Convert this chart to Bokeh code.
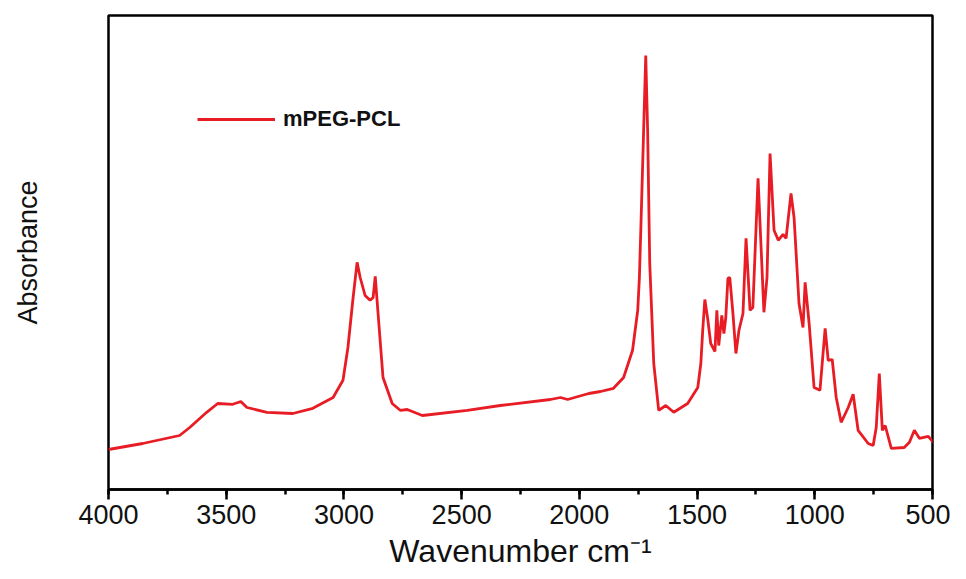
from bokeh.plotting import figure
from bokeh.models import Range1d, SingleIntervalTicker, FixedTicker, Legend, LegendItem
from bokeh.embed import file_html
from bokeh.resources import INLINE

# FTIR spectrum of mPEG-PCL
wavenumber = [4000, 3855, 3698, 3655, 3583, 3536, 3472, 3438, 3412, 3327, 3217, 3132,
              3046, 3004, 2983, 2961, 2944, 2931, 2910, 2889, 2876, 2867, 2855, 2834,
              2795, 2761, 2731, 2667, 2476, 2336, 2123, 2080, 2050, 1960, 1910, 1855,
              1812, 1774, 1752, 1745, 1739, 1727, 1718, 1710, 1701, 1684, 1663, 1633, 1599,
              1540, 1497, 1484, 1476, 1467, 1454, 1442, 1424, 1416, 1408, 1395, 1386,
              1378, 1369, 1361, 1348, 1335, 1322, 1305, 1292, 1275, 1263, 1241, 1216,
              1203, 1190, 1173, 1155, 1135, 1122, 1101, 1088, 1067, 1050, 1041, 1024,
              1003, 978, 956, 943, 926, 909, 888, 858, 837, 816, 773, 752, 739, 726,
              713, 701, 675, 620, 598, 577, 556, 518, 492]
absorbance = [0.100, 0.115, 0.135, 0.155, 0.193, 0.215, 0.213, 0.220, 0.205, 0.193, 0.190, 0.203,
              0.230, 0.273, 0.355, 0.480, 0.568, 0.530, 0.485, 0.473, 0.480, 0.533, 0.440, 0.280,
              0.215, 0.198, 0.200, 0.185, 0.198, 0.210, 0.225, 0.230, 0.225, 0.240, 0.245, 0.253,
              0.280, 0.348, 0.448, 0.530, 0.648, 0.898, 1.085, 0.898, 0.565, 0.315, 0.198, 0.210, 0.193,
              0.215, 0.255, 0.315, 0.398, 0.475, 0.423, 0.365, 0.345, 0.448, 0.360, 0.435, 0.390,
              0.430, 0.528, 0.530, 0.443, 0.340, 0.398, 0.440, 0.628, 0.448, 0.455, 0.778, 0.443,
              0.530, 0.840, 0.648, 0.623, 0.638, 0.628, 0.740, 0.680, 0.465, 0.405, 0.518, 0.415,
              0.255, 0.248, 0.403, 0.323, 0.325, 0.230, 0.168, 0.205, 0.238, 0.148, 0.115, 0.110,
              0.155, 0.290, 0.148, 0.160, 0.103, 0.105, 0.118, 0.148, 0.128, 0.133, 0.115]
series_name = "mPEG-PCL"
x_ticks_interval = 500

p = figure(width=950, height=571, output_backend="svg", toolbar_location=None,
           x_range=Range1d(4000, 500), y_range=Range1d(0, 1.185),
           min_border_left=108, min_border_right=18, min_border_top=15, min_border_bottom=82)

p.grid.visible = False
p.background_fill_color = "white"
p.outline_line_color = "black"
p.outline_line_width = 2.5

line = p.line(wavenumber, absorbance, line_color="#e81c24", line_width=2.8)

legend = Legend(items=[LegendItem(label=series_name, renderers=[line])],
                location=(89, 357), padding=0, margin=0, spacing=0,
                glyph_width=78, glyph_height=20, label_standoff=8,
                border_line_color=None, background_fill_alpha=0,
                label_text_font="Liberation Sans", label_text_font_style="bold",
                label_text_font_size="22px", label_text_color="#111111")
p.add_layout(legend)

xa = p.xaxis[0]
xa.ticker = SingleIntervalTicker(interval=x_ticks_interval, num_minor_ticks=2)
xa.axis_line_color = "black"
xa.axis_line_width = 2.5
xa.major_tick_line_width = 2.5
xa.minor_tick_line_width = 2.5
xa.major_tick_in = 0
xa.major_tick_out = 10
xa.minor_tick_in = 0
xa.minor_tick_out = 5
xa.major_label_standoff = 5
xa.major_label_text_font = "Liberation Sans"
xa.major_label_text_font_size = "27px"
xa.major_label_text_color = "#111111"
xa.axis_label = "Wavenumber cm⁻¹"
xa.axis_label_standoff = 6
xa.axis_label_text_font = "Liberation Sans"
xa.axis_label_text_font_size = "32px"
xa.axis_label_text_font_style = "normal"
xa.axis_label_text_color = "#111111"

ya = p.yaxis[0]
ya.ticker = FixedTicker(ticks=[])
ya.axis_line_color = None
ya.major_tick_line_color = None
ya.minor_tick_line_color = None
ya.axis_label = "Absorbance"
ya.axis_label_standoff = 66
ya.axis_label_text_font = "Liberation Sans"
ya.axis_label_text_font_size = "27px"
ya.axis_label_text_font_style = "normal"
ya.axis_label_text_color = "#111111"

open("out.html", "w").write(file_html(p, INLINE))
